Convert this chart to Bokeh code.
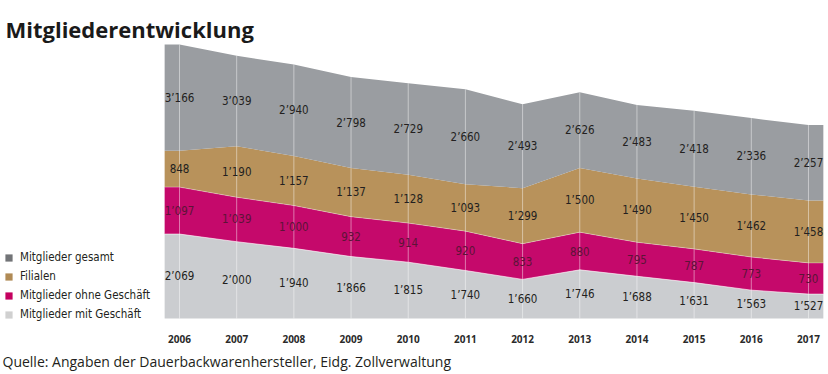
import numpy as np
from bokeh.plotting import figure
from bokeh.models import Range1d, Label, Legend, LegendItem, ColumnDataSource
from bokeh.core.properties import value
from bokeh.embed import file_html
from bokeh.resources import INLINE

# ---------------- data ----------------
years = [2006, 2007, 2008, 2009, 2010, 2011, 2012, 2013, 2014, 2015, 2016, 2017]
mit_geschaeft = [2069, 2000, 1940, 1866, 1815, 1740, 1660, 1746, 1688, 1631, 1563, 1527]
ohne_geschaeft = [1097, 1039, 1000, 932, 914, 920, 833, 880, 795, 787, 773, 730]
filialen = [848, 1190, 1157, 1137, 1128, 1093, 1299, 1500, 1490, 1450, 1462, 1458]
gesamt = [3166, 3039, 2940, 2798, 2729, 2660, 2493, 2626, 2483, 2418, 2336, 2257]

series_names = ["Mitglieder gesamt", "Filialen", "Mitglieder ohne Geschäft", "Mitglieder mit Geschäft"]
title_text = "Mitgliederentwicklung"
source_text = "Quelle: Angaben der Dauerbackwarenhersteller, Eidg. Zollverwaltung"

# ---------------- layout / style ----------------
W, H = 828, 374
BASE = 56.0            # bottom of the stacked bands (display units = px from bottom)
PAD = 0.26             # bands extend beyond first/last year
# the original is an illustrative (non-linear) stack: each band has its own display scale
K_MIT, MIT0 = 0.1108, 1307.0
K_BAND = 0.0428
K_TOP, TOP0 = 0.0887, -6.8

C_GES = "#9a9da1"
C_FIL = "#b8925b"
C_OHNE = "#c5096b"
C_MIT = "#cbcdd0"
LEG_COLORS = ["#727477", "#b08a55", "#c4005f", "#d0d0d0"]
NUM_FONT = "Liberation Sans Narrow, DejaVu Sans Condensed, Roboto"

yrs = np.array(years, dtype=float)
mit = np.array(mit_geschaeft, dtype=float)
ohne = np.array(ohne_geschaeft, dtype=float)
fil = np.array(filialen, dtype=float)
ges = np.array(gesamt, dtype=float)

b0 = np.full_like(mit, BASE)
b1 = BASE + K_MIT * (mit - MIT0)
b2 = b1 + K_BAND * ohne
b3 = b2 + K_BAND * fil
b4 = BASE + K_TOP * ges + TOP0

x_ext = np.concatenate([[yrs[0] - PAD], yrs, [yrs[-1] + PAD]])
def ext(a):
    return np.concatenate([[a[0]], a, [a[-1]]])

px_per_year = 57.18
x_start = years[0] - 179 / px_per_year
p = figure(width=W, height=H, output_backend="svg", toolbar_location=None,
           x_range=Range1d(x_start, x_start + W / px_per_year), y_range=Range1d(0, H),
           min_border=0, x_axis_type=None, y_axis_type=None, title=None)
p.outline_line_color = None
p.grid.visible = False
p.background_fill_color = "white"

p.varea(x=x_ext, y1=ext(b0), y2=ext(b1), fill_color=C_MIT)
p.varea(x=x_ext, y1=ext(b1), y2=ext(b2), fill_color=C_OHNE)
p.varea(x=x_ext, y1=ext(b2), y2=ext(b3), fill_color=C_FIL)
p.varea(x=x_ext, y1=ext(b3), y2=ext(b4), fill_color=C_GES)

# thin light separators between bands
p.line(x_ext, ext(b1), line_color="white", line_alpha=0.6, line_width=1)
p.line(x_ext, ext(b2), line_color="white", line_alpha=0.35, line_width=1)

# vertical year lines through the bands
p.segment(x0=yrs, y0=b0, x1=yrs, y1=b4, line_color="white", line_alpha=0.45, line_width=1)

def fmt(v):
    return f"{int(v):,}".replace(",", "\u2019")

def add_labels(vals, lo, hi, color):
    src = ColumnDataSource(dict(x=yrs, y=(lo + hi) / 2, t=[fmt(v) for v in vals]))
    p.text(x="x", y="y", text="t", source=src, text_align="center", text_baseline="middle",
           text_font=value(NUM_FONT), text_font_size="11.5px", text_color=color)

add_labels(mit, b0, b1, "#231f20")
add_labels(ohne, b1, b2, "#5c1437")
add_labels(fil, b2, b3, "#231f20")
add_labels(ges, b3, b4, "#231f20")

# year labels
p.text(x=yrs, y=np.full_like(yrs, BASE - 20), text=[str(y) for y in years], text_align="center",
       text_baseline="middle", text_font=value("Open Sans"), text_font_size="10px",
       text_font_style="bold", text_color="#2a2a2a")

# legend (swatches placed outside the visible range; only their legend glyphs show)
off = x_start - 1
dummies = []
for c in LEG_COLORS:
    r = p.quad(left=[off - 0.5], right=[off], top=[1], bottom=[0], fill_color=c, line_color=None)
    dummies.append(r)
legend = Legend(items=[LegendItem(label=n, renderers=[r]) for n, r in zip(series_names, dummies)],
                location=(4, 53), orientation="vertical", padding=0, spacing=5,
                glyph_width=9, glyph_height=9, label_height=12, label_standoff=7,
                label_text_font=NUM_FONT, label_text_font_size="11.5px", label_text_color="#231f20",
                border_line_color=None, background_fill_alpha=0)
p.add_layout(legend)

p.add_layout(Label(x=5, x_units="screen", y=H - 28.5, text=title_text,
                   text_font="Open Sans", text_font_size="22px",
                   text_font_style="bold", text_color="#1a1a1a", text_baseline="alphabetic"))
p.add_layout(Label(x=2, x_units="screen", y=H - 361, text=source_text, text_font="Open Sans",
                   text_font_size="14px", text_color="#231f20", text_baseline="alphabetic"))

open("out.html", "w").write(file_html(p, INLINE))
